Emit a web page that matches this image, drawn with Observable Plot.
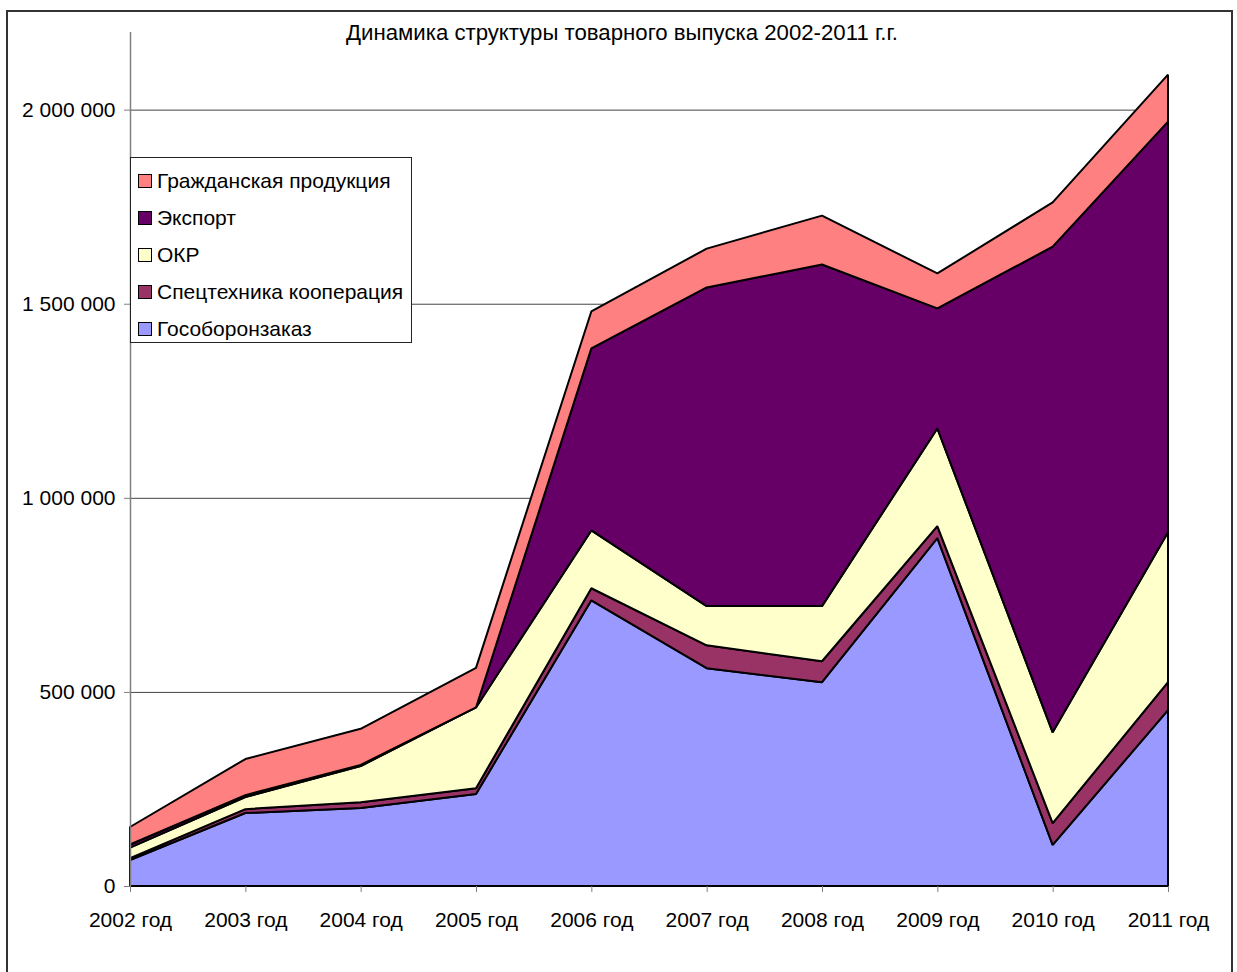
<!DOCTYPE html>
<html>
<head>
<meta charset="utf-8">
<script src="https://cdn.jsdelivr.net/npm/d3@7"></script>
<script src="https://cdn.jsdelivr.net/npm/@observablehq/plot@0.6"></script>
<style>
  html, body { margin: 0; padding: 0; background: #fff; overflow: hidden; }
  #wrap { position: relative; width: 1237px; height: 972px; font-family: "Liberation Sans", Arial, sans-serif; }
  #frame { position: absolute; left: 6px; top: 10px; width: 1227px; height: 990px; border: 2px solid #333; box-sizing: border-box; }
  #chart { position: absolute; left: 0; top: 0; }
  #title { position: absolute; left: 0; top: 0; }
  #legend { position: absolute; left: 130px; top: 157px; width: 282px; height: 186px; box-sizing: border-box;
            border: 1px solid #222; background: #fff; padding-top: 4px; }
  .item { position: relative; height: 37px; font-size: 21px; color: #000; }
  .sw { position: absolute; left: 7px; top: 12px; width: 14px; height: 14px; box-sizing: border-box; border: 1.5px solid #000; }
  .lab { position: absolute; left: 26px; top: 7px; line-height: 24px; white-space: nowrap; }
</style>
</head>
<body>
<div id="wrap">
  <div id="frame"></div>
  <div id="chart"></div>
  <div id="title"></div>
  <div id="legend"></div>
</div>
<script>
const titleText = "Динамика структуры товарного выпуска 2002-2011 г.г.";
const years = [2002, 2003, 2004, 2005, 2006, 2007, 2008, 2009, 2010, 2011];
const seriesNames = ["Гособоронзаказ", "Спецтехника кооперация", "ОКР", "Экспорт", "Гражданская продукция"];
const seriesColors = ["#9999FF", "#993366", "#FFFFCC", "#660066", "#FF8080"];
const yTicks = [0, 500000, 1000000, 1500000, 2000000];

const gosoboronzakaz = [67000, 188000, 201000, 237000, 736000, 561000, 525000, 896000, 106000, 453000];
const spectekhnika   = [5000, 10000, 15000, 15000, 31000, 59000, 54000, 31000, 56000, 72000];
const okr            = [27000, 31000, 93000, 208000, 149000, 101000, 142000, 252000, 234000, 386000];
const eksport        = [8000, 5000, 3000, 0, 469000, 821000, 880000, 309000, 1251000, 1058000];
const grazhdanskaya  = [45000, 93000, 93000, 102000, 95000, 100000, 126000, 90000, 114000, 121000];

const seriesValues = [gosoboronzakaz, spectekhnika, okr, eksport, grazhdanskaya];
const data = years.flatMap((yr, i) => seriesNames.map((s, k) => ({year: yr, series: s, value: seriesValues[k][i]})));

const fmt = d => d3.format(",")(d).replace(/,/g, " ");

const chart = Plot.plot({
  width: 1237,
  height: 972,
  marginLeft: 130,
  marginRight: 69,
  marginTop: 32,
  marginBottom: 86,
  style: {fontFamily: "'Liberation Sans', Arial, sans-serif", fontSize: "21px", color: "#000", background: "transparent", overflow: "visible"},
  x: {domain: [2002, 2011], label: null},
  y: {domain: [0, 2200000], label: null},
  color: {domain: seriesNames, range: seriesColors},
  marks: [
    Plot.ruleY(yTicks.slice(1), {stroke: "#444", strokeWidth: 1}),
    Plot.areaY(data, {x: "year", y: "value", z: "series", fill: "series", stroke: "#000", strokeWidth: 2, strokeLinejoin: "miter"}),
    Plot.ruleX([2002], {y1: 0, y2: 2200000, stroke: "#808080", strokeWidth: 1.5}),
    Plot.axisX({ticks: years, tickFormat: d => d + " год", tickSize: 6, tickPadding: 20, stroke: "#808080", fill: "#000"}),
    Plot.axisY({ticks: yTicks, tickFormat: fmt, tickSize: 6, tickPadding: 9, stroke: "#808080", fill: "#000"})
  ]
});
document.getElementById("chart").appendChild(chart);

// Title
const tsvg = d3.select("#title").append("svg").attr("width", 1237).attr("height", 60);
tsvg.append("text")
  .attr("x", 622).attr("y", 34)
  .attr("text-anchor", "middle")
  .attr("dominant-baseline", "middle")
  .attr("font-family", "'Liberation Sans', Arial, sans-serif")
  .attr("font-size", 22)
  .attr("textLength", 552)
  .attr("lengthAdjust", "spacingAndGlyphs")
  .text(titleText);

// Legend (reverse order: top series first)
const legend = d3.select("#legend");
seriesNames.map((s, k) => ({s, c: seriesColors[k]})).reverse().forEach(({s, c}) => {
  const it = legend.append("div").attr("class", "item");
  it.append("div").attr("class", "sw").style("background", c);
  it.append("div").attr("class", "lab").text(s);
});
</script>
</body>
</html>
